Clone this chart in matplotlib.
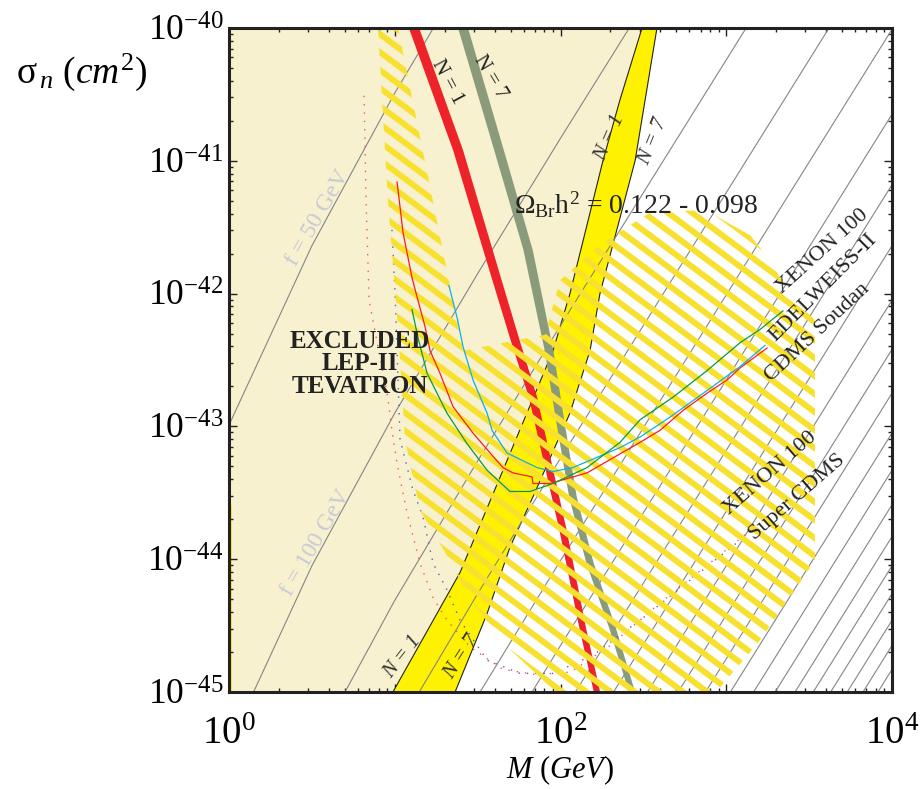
import numpy as np
import matplotlib
matplotlib.use("Agg")
import matplotlib.pyplot as plt
from matplotlib.patches import Polygon
from matplotlib.ticker import FixedLocator, FuncFormatter, NullFormatter

plt.rcParams['font.family'] = ['Liberation Serif', 'DejaVu Serif']
plt.rcParams['mathtext.fontset'] = 'custom'
plt.rcParams['mathtext.rm'] = 'Liberation Serif'
plt.rcParams['mathtext.it'] = 'Liberation Serif:italic'
plt.rcParams['mathtext.bf'] = 'Liberation Serif:bold'

# palette
BEIGE = "#f7f1d0"; YEL = "#fff200"; HATCH = "#f8e12e"; RED = "#ee2229"; GRN = "#8a9b7b"
INK = "#222222"; FGRAY = "#c6cad6"

# ---- data (log10 M [GeV], log10 sigma [cm^2])
# relic-density band, N=1 (left edge) and N=7 (right edge)
n1_logM = [2.492, 2.359, 2.256, 2.057, 1.955, 1.653, 1.394, 0.989]
n1_logS = [-40.00, -40.54, -41.00, -42.00, -42.43, -43.33, -44.10, -45.00]
n7_logM = [2.582, 2.450, 2.238, 2.178, 2.057, 1.834, 1.695, 1.557, 1.364]
n7_logS = [-40.00, -41.00, -42.00, -42.43, -42.90, -43.53, -43.91, -44.41, -45.00]

# thick red (N=1) and grey-green (N=7) bands: left / right edges
red_logS = [-40.00, -40.92, -41.90, -42.35, -42.78, -43.35, -43.78, -44.53, -45.00]
red_left = [1.085, 1.352, 1.589, 1.699, 1.809, 1.914, 1.993, 2.116, 2.201]
red_right = [1.147, 1.412, 1.645, 1.753, 1.859, 1.960, 2.037, 2.156, 2.239]
grn_logS = [-40.00, -40.92, -41.67, -42.43, -42.95, -43.53, -44.03, -44.53, -45.00]
grn_left = [1.382, 1.600, 1.776, 1.905, 1.972, 2.052, 2.156, 2.297, 2.412]
grn_right = [1.442, 1.658, 1.832, 1.957, 2.022, 2.098, 2.200, 2.337, 2.450]

# constant-f lines: f = 50 GeV reference curve, others shifted down (decades)
fref_logM = [-1.0, -0.5, 0.0, 0.5, 1.0, 1.5, 2.0, 2.5, 3.0, 3.5, 4.0]
fref_logS = [-46.45, -44.61, -42.99, -41.64, -40.49, -39.44, -38.42, -37.42, -36.42, -35.42, -34.42]
f_shift = [0.0, 2.41, 3.82, 4.82, 5.59, 6.23, 6.76, 7.22, 7.63, 8.00,
           8.33, 8.63, 8.91, 9.17, 9.41, 9.63, 9.84, 10.04, 10.23, 10.41]

# experimental limits
cdms_logM = [1.014, 1.050, 1.104, 1.140, 1.183, 1.213, 1.273, 1.351, 1.472, 1.575, 1.653, 1.713,
             1.828, 1.834, 1.937, 2.160, 2.480, 2.600, 2.739, 2.884, 3.005, 3.083, 3.246]
cdms_logS = [-41.16, -41.54, -41.88, -42.05, -42.25, -42.43, -42.60, -42.85, -43.05, -43.20, -43.31, -43.35,
             -43.38, -43.43, -43.43, -43.35, -43.12, -43.03, -42.88, -42.75, -42.65, -42.56, -42.41]
xenon_logM = [1.327, 1.376, 1.412, 1.472, 1.557, 1.587, 1.677, 1.858, 1.955, 2.075, 2.359, 2.480,
              2.661, 2.884, 3.083, 3.234]
xenon_logS = [-41.94, -42.18, -42.40, -42.65, -42.90, -43.03, -43.20, -43.31, -43.34, -43.31, -43.16, -43.08,
              -42.93, -42.73, -42.55, -42.39]
edel_logM = [1.104, 1.140, 1.195, 1.315, 1.436, 1.557, 1.695, 1.816, 1.955, 2.160, 2.359, 2.480,
             2.679, 2.884, 3.083, 3.204, 3.342]
edel_logS = [-42.12, -42.33, -42.60, -42.90, -43.13, -43.33, -43.49, -43.49, -43.43, -43.31, -43.12, -42.95,
             -42.78, -42.58, -42.37, -42.27, -42.13]

# projected sensitivities (dotted)
proj_red_logM = [0.815, 0.827, 0.845, 0.959, 0.983, 1.014, 1.074, 1.152, 1.231, 1.315, 1.454, 1.653,
                 1.858, 2.060, 2.300, 2.600, 2.900, 3.200]
proj_red_logS = [-40.51, -41.30, -42.05, -42.79, -43.03, -43.28, -43.65, -44.03, -44.29, -44.46, -44.66, -44.83,
                 -44.87, -44.85, -44.65, -44.33, -44.03, -43.73]
proj_blue_logM = [0.983, 1.002, 1.032, 1.110, 1.170, 1.231, 1.315, 1.394, 1.557, 1.756, 1.955, 2.200,
                  2.500, 2.800, 3.100]
proj_blue_logS = [-41.52, -42.00, -43.10, -43.48, -43.68, -44.03, -44.23, -44.46, -44.76, -44.86, -44.86,
                  -44.72, -44.44, -44.14, -43.84]

# region covered by the sensitivity hatching
hatch_logM = [0.899, 1.020, 1.412, 1.907, 1.997, 2.238, 2.389, 2.540, 2.872, 3.143, 3.264, 3.385, 3.535,
              3.535, 3.204, 2.872, 2.057, 1.695, 1.454, 1.333, 1.152, 1.062, 1.020, 0.959]
hatch_logS = [-40.00, -40.00, -42.43, -42.31, -41.90, -41.63, -41.51, -41.39, -41.37, -41.56, -41.75, -42.01,
              -42.20, -44.01, -44.61, -45.10, -45.10, -44.68, -44.31, -44.01, -43.63, -43.10, -42.27, -41.30]

x_ticks = [1e0, 1e1, 1e2, 1e3, 1e4]
y_ticks = [1e-45, 1e-44, 1e-43, 1e-42, 1e-41, 1e-40]


def P(a):
    return 10.0 ** np.asarray(a)


fig = plt.figure(figsize=(9.22, 7.89), dpi=100, facecolor="white")
ax = fig.add_axes([229 / 922, 97 / 789, 663 / 922, 664 / 789])
ax.set_xscale("log"); ax.set_yscale("log")
ax.set_xlim(1, 1e4); ax.set_ylim(1e-45, 1e-40)

# excluded (beige) region left of the N=1 relic curve
ax.fill(np.concatenate([[1.0], P(n1_logM), [1.0]]),
        np.concatenate([[1e-40], P(n1_logS), [1e-45]]), color=BEIGE, lw=0, zorder=1)
ax.plot([1.02, 1.02], [1e-45, 2.5e-44], color=YEL, lw=2, zorder=1.5)

# relic band
ax.fill(np.concatenate([P(n1_logM), P(n7_logM)[::-1]]),
        np.concatenate([P(n1_logS), P(n7_logS)[::-1]]), color=YEL, lw=0, zorder=2)
ax.plot(P(n1_logM), P(n1_logS), color=INK, lw=0.8, zorder=3)
ax.plot(P(n7_logM), P(n7_logS), color=INK, lw=0.8, zorder=3)

# constant-f lines
for s in f_shift:
    ax.plot(P(fref_logM), P(np.asarray(fref_logS) - s), color="#858585", lw=0.8, zorder=3)

# thick N=1 / N=7 bands
ax.fill(np.concatenate([P(red_left), P(red_right)[::-1]]),
        np.concatenate([P(red_logS), P(red_logS)[::-1]]), color=RED, lw=0, zorder=4)
ax.fill(np.concatenate([P(grn_left), P(grn_right)[::-1]]),
        np.concatenate([P(grn_logS), P(grn_logS)[::-1]]), color=GRN, lw=0, zorder=4)

# projected sensitivities (under the hatching)
ax.plot(P(proj_red_logM), P(proj_red_logS), color="#ff5060", lw=1.0, ls=(0, (1, 5)), zorder=4.5)
ax.plot(P(proj_blue_logM), P(proj_blue_logS), color="#5060c0", lw=1.0, ls=(0, (1, 5)), zorder=4.5)

# hatching (stripes clipped to the region)
clip = Polygon(np.column_stack([P(hatch_logM), P(hatch_logS)]), closed=True,
               transform=ax.transData, fc="none", ec="none")
ax.add_patch(clip)
lm = np.array([0.0, 4.0])
for c in np.arange(-43.4, -38.5, 0.1355):
    ln, = ax.plot(P(lm), P(c - 0.93 * lm), color=HATCH, lw=4.3, solid_capstyle="butt", zorder=5)
    ln.set_clip_path(clip)

# present limits
ax.plot(P(cdms_logM), P(cdms_logS), color="#ff1a1a", lw=0.9, zorder=7)
ax.plot(P(xenon_logM), P(xenon_logS), color="#12aee0", lw=0.9, zorder=7)
ax.plot(P(edel_logM), P(edel_logS), color="#0a9a3c", lw=0.9, zorder=7)


def T(x, y, s, size=13, color=INK, rot=0, **kw):
    ax.text((x - 229) / 663, (692 - y) / 664, s, fontsize=size, color=color, rotation=rot,
            rotation_mode="anchor", ha="center", va="center", transform=ax.transAxes, zorder=8, **kw)


T(447, 82, "N = 1", 15, rot=-62)
T(490, 77, "N = 7", 15, rot=-59)
T(610, 138, "N = 1", 15, "#333333", rot=66, style="italic")
T(653, 142, "N = 7", 15, "#333333", rot=68, style="italic")
T(403, 657, "N = 1", 15, "#333333", rot=52, style="italic")
T(462, 657, "N = 7", 15, "#333333", rot=57, style="italic")
T(318, 218, "f = 50 GeV", 17, FGRAY, rot=60)
T(316, 543, "f = 100 GeV", 17, FGRAY, rot=60)
T(360, 364, "EXCLUDED\nLEP-II\nTEVATRON", 18, weight="bold", linespacing=0.95)
T(636, 205, r"$\mathrm{\Omega_{Br}h^2}$ = 0.122 - 0.098", 20)
T(822, 252, "XENON 100", 16, rot=42)
T(823, 288, "EDELWEISS-II", 16, rot=45)
T(817, 333, "CDMS Soudan", 16, rot=43)
T(770, 473, "XENON 100", 16, rot=41)
T(797, 497, "Super CDMS", 16, rot=41)

# axes, ticks
for sp in ax.spines.values():
    sp.set_linewidth(2.2); sp.set_color(INK); sp.set_zorder(10)
ax.xaxis.set_major_locator(FixedLocator(x_ticks))
ax.yaxis.set_major_locator(FixedLocator(y_ticks))
ax.xaxis.set_minor_locator(FixedLocator([d * k for d in x_ticks[:-1] for k in range(2, 10)]))
ax.yaxis.set_minor_locator(FixedLocator([d * k for d in y_ticks[:-1] for k in range(2, 10)]))
ax.xaxis.set_minor_formatter(NullFormatter()); ax.yaxis.set_minor_formatter(NullFormatter())
ax.xaxis.set_major_formatter(FuncFormatter(
    lambda v, p: r"$\mathrm{10^{%d}}$" % round(np.log10(v)) if round(np.log10(v)) % 2 == 0 else ""))
ax.yaxis.set_major_formatter(FuncFormatter(lambda v, p: r"$\mathrm{10^{%d}}$" % round(np.log10(v))))
ax.tick_params(which="both", direction="in", top=True, right=True, color=INK, width=1, zorder=11)
ax.tick_params(which="major", length=6, pad=4)
ax.tick_params(which="minor", length=3)
ax.tick_params(axis="y", labelsize=25.5)
ax.tick_params(axis="x", labelsize=28, pad=17)

fig.text(82 / 922, 1 - 72 / 789, r"$\mathrm{\sigma}_{\,n}\ (cm^2)$", fontsize=27, ha="center", va="center")
fig.text(560 / 922, 1 - 770 / 789, r"$M\ (GeV)$", fontsize=22, ha="center", va="center")

fig.savefig("out.png", dpi=100, facecolor="white")
